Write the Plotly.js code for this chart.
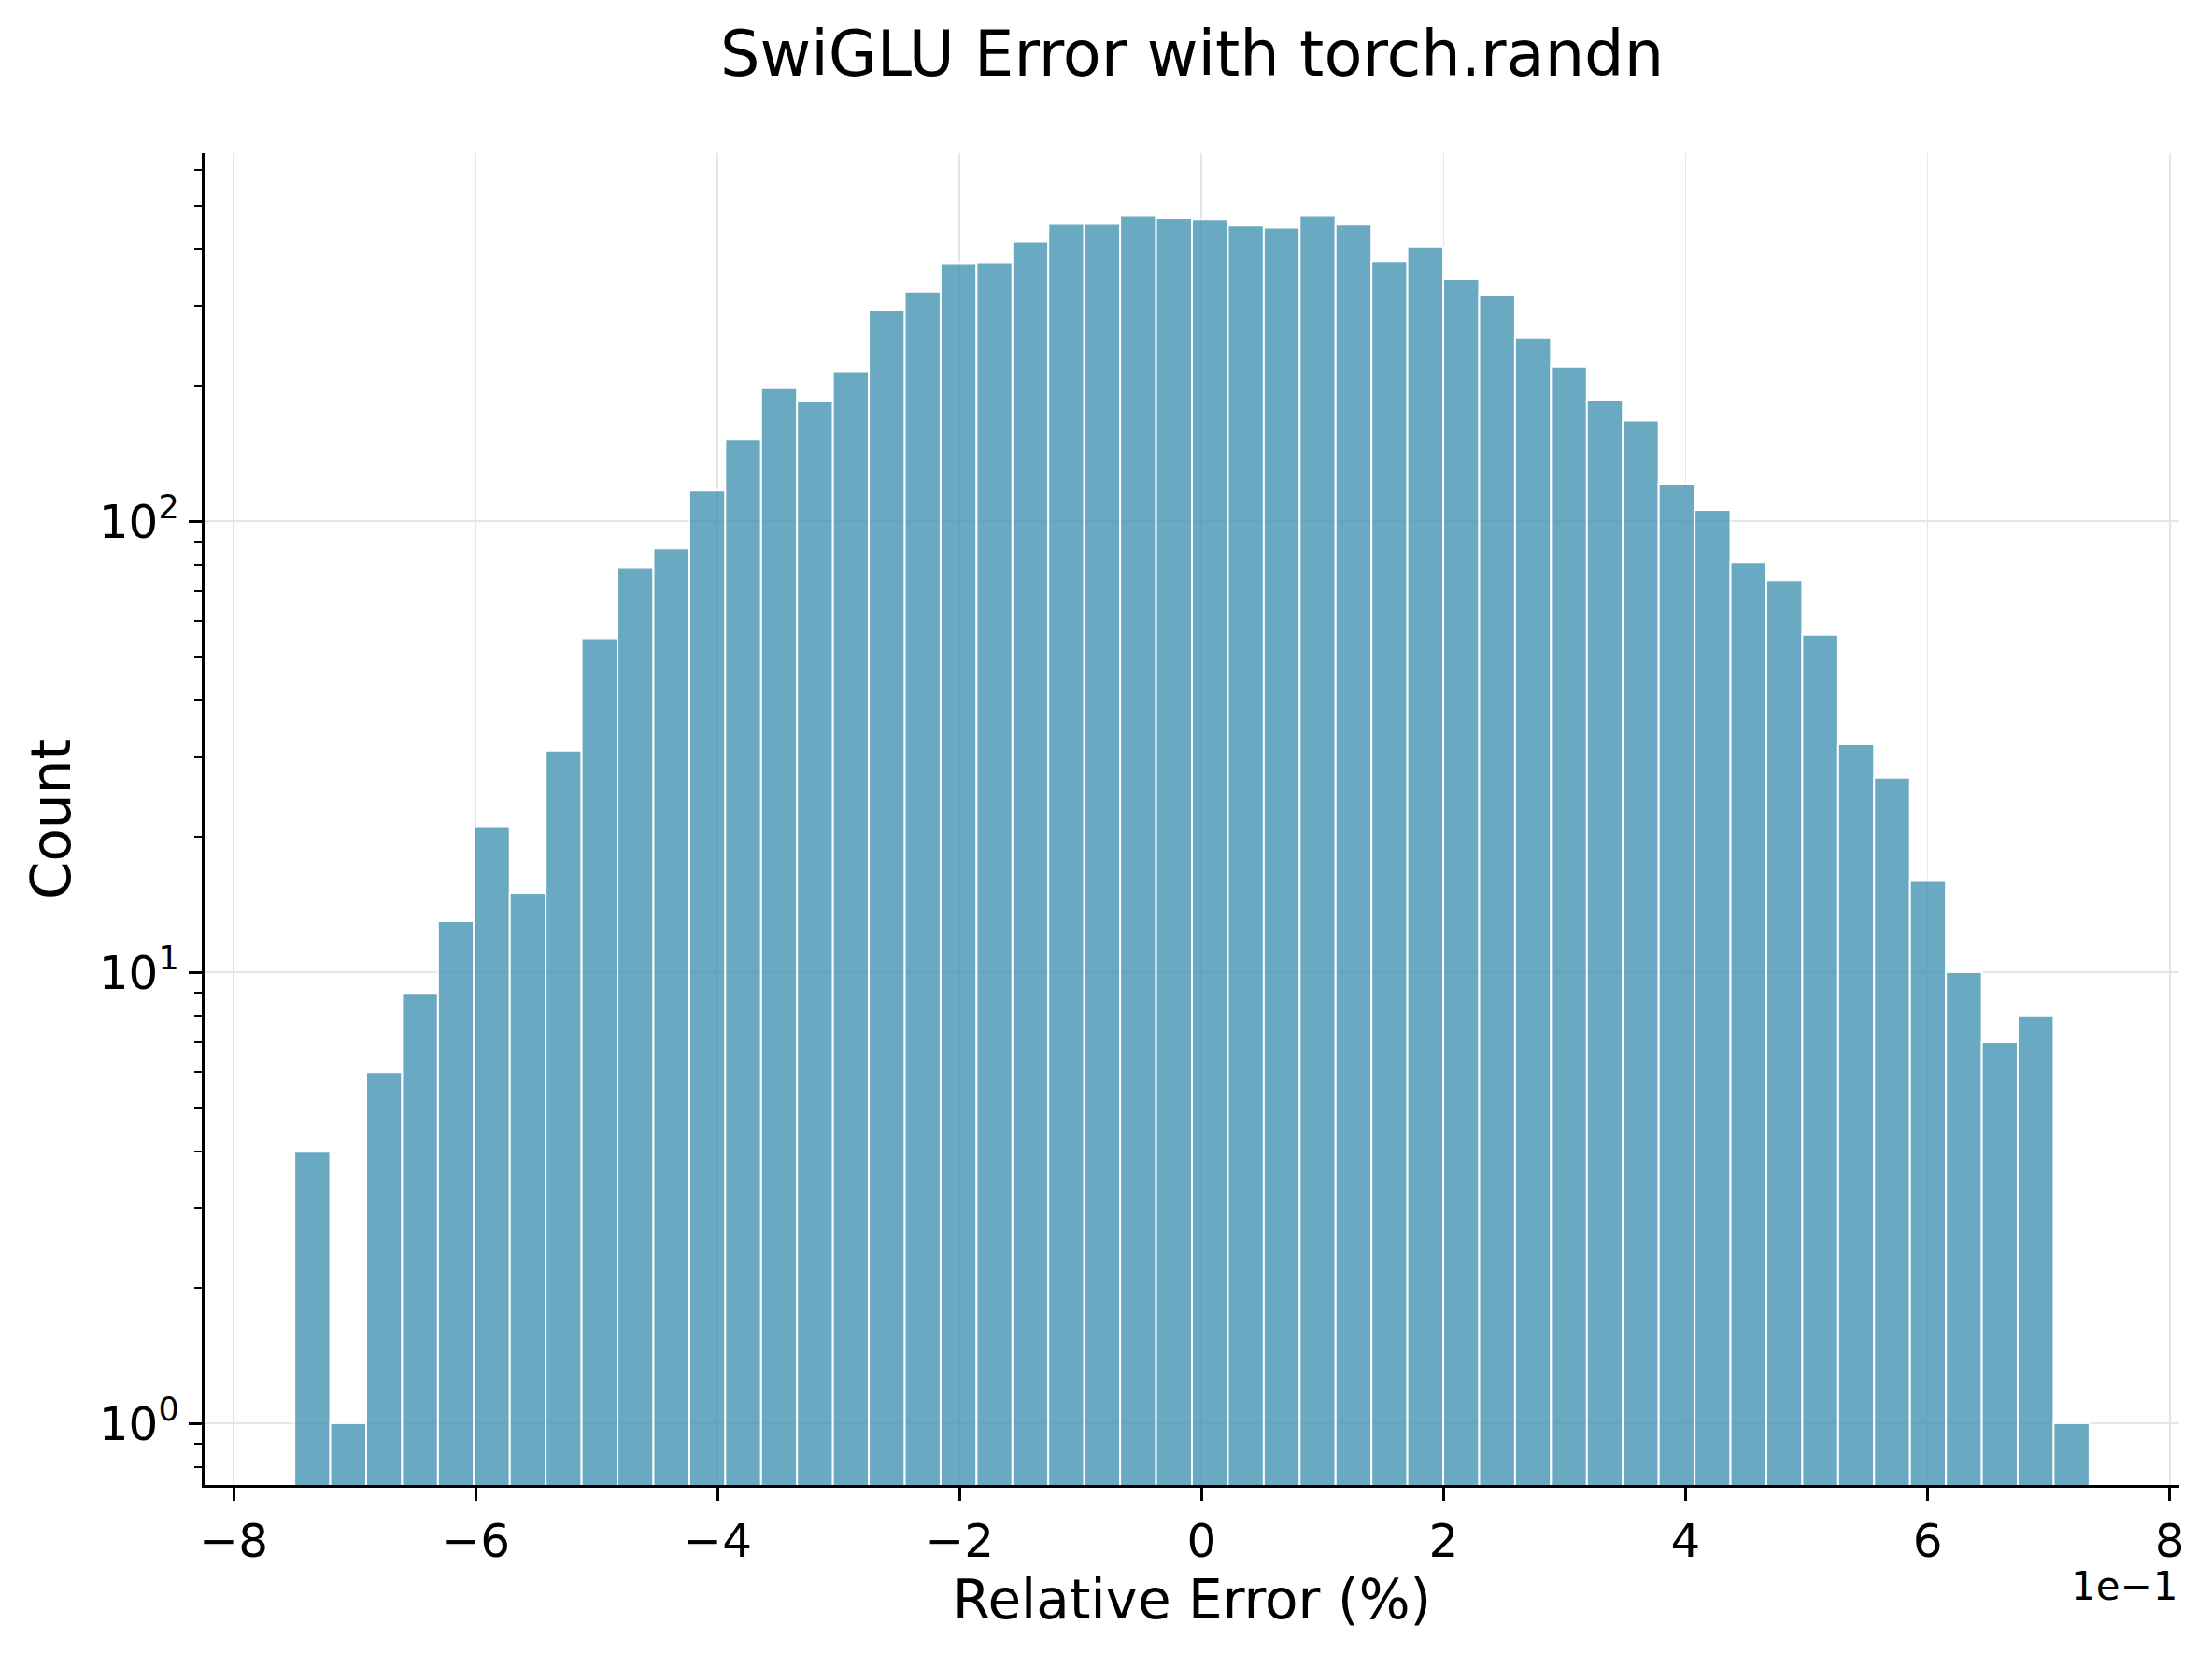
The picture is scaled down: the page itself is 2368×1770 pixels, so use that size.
<!DOCTYPE html>
<html>
<head>
<meta charset="utf-8">
<script src="https://cdn.plot.ly/plotly-3.0.1.min.js"></script>
<style>
  html, body { margin: 0; padding: 0; background: #ffffff; }
  #chart { width: 2368px; height: 1770px; }
</style>
</head>
<body>
<div id="chart"></div>
<script>
// Histogram of relative error (%), 50 equal-width bins
const binEdgeMin = -0.7498;   // left edge of first bin (%)
const binEdgeMax = 0.7338;    // right edge of last bin (%)
const counts = [
  4, 1, 6, 9, 13, 21, 15, 31, 55, 79,
  87, 117, 152, 198, 185, 215, 294, 322, 372, 374,
  417, 457, 457, 477, 470, 466, 453, 448, 477, 455,
  376, 405, 344, 317, 255, 220, 186, 167, 121, 106,
  81, 74, 56, 32, 27, 16, 10, 7, 8, 1
];
const xTickVals = [-0.8, -0.6, -0.4, -0.2, 0, 0.2, 0.4, 0.6, 0.8];
const xTickText = ['\u22128', '\u22126', '\u22124', '\u22122', '0', '2', '4', '6', '8'];
const yTickVals = [1, 10, 100];
const yTickText = ['10<sup>0</sup>', '10<sup>1</sup>', '10<sup>2</sup>'];
const yMinorVals = [0.8, 0.9, 2, 3, 4, 5, 6, 7, 8, 9, 20, 30, 40, 50, 60, 70, 80, 90, 200, 300, 400, 500, 600];

const binWidth = (binEdgeMax - binEdgeMin) / counts.length;
const leftEdges = counts.map((_, i) => binEdgeMin + i * binWidth);

const FONT = 'DejaVu Sans, Liberation Sans, sans-serif';

const trace = {
  type: 'bar',
  x: leftEdges,
  y: counts,
  width: binWidth,
  offset: 0,
  marker: {
    color: 'rgb(70,148,180)',
    opacity: 0.8,
    line: { color: '#ffffff', width: 2 }
  },
  hoverinfo: 'x+y'
};

const layout = {
  width: 2368,
  height: 1770,
  paper_bgcolor: '#ffffff',
  plot_bgcolor: '#ffffff',
  margin: { l: 219, r: 35, t: 164, b: 180, pad: 0 },
  showlegend: false,
  font: { family: FONT, color: '#000000' },
  title: {
    text: 'SwiGLU Error with torch.randn',
    font: { family: FONT, size: 67, color: '#000000' },
    x: 0.5, xref: 'paper', xanchor: 'center',
    y: 1 - 58 / 1770, yref: 'container', yanchor: 'middle'
  },
  xaxis: {
    range: [-0.824, 0.808],
    tickmode: 'array',
    tickvals: xTickVals,
    ticktext: xTickText,
    ticks: 'outside',
    ticklen: 14,
    tickwidth: 3,
    tickcolor: '#000000',
    tickfont: { family: FONT, size: 50, color: '#000000' },
    showline: true,
    linecolor: '#000000',
    linewidth: 3.3,
    showgrid: true,
    gridcolor: '#e6e6e6',
    gridwidth: 1.8,
    zeroline: false,
    automargin: false,
    title: {
      text: 'Relative Error (%)',
      font: { family: FONT, size: 58, color: '#000000' },
      standoff: 7
    }
  },
  yaxis: {
    type: 'log',
    range: [-0.1366, 2.816],
    tickmode: 'array',
    tickvals: yTickVals,
    ticktext: yTickText,
    ticks: 'outside',
    ticklen: 14,
    tickwidth: 3,
    tickcolor: '#000000',
    tickfont: { family: FONT, size: 50, color: '#000000' },
    showline: true,
    linecolor: '#000000',
    linewidth: 3.3,
    showgrid: true,
    gridcolor: '#e6e6e6',
    gridwidth: 1.8,
    zeroline: false,
    automargin: false,
    minor: {
      tickmode: 'array',
      tickvals: yMinorVals,
      ticks: 'outside',
      ticklen: 8,
      tickwidth: 2.2,
      tickcolor: '#000000',
      showgrid: false
    },
    title: {
      text: 'Count',
      font: { family: FONT, size: 58, color: '#000000' },
      standoff: 12
    }
  },
  annotations: [
    {
      text: '1e\u22121',
      xref: 'paper', yref: 'paper',
      x: 1, y: (1590 - 1698) / 1426,
      xanchor: 'right', yanchor: 'middle',
      showarrow: false,
      font: { family: FONT, size: 42, color: '#000000' }
    }
  ]
};

Plotly.newPlot('chart', [trace], layout, { displayModeBar: false, staticPlot: true });
</script>
</body>
</html>
